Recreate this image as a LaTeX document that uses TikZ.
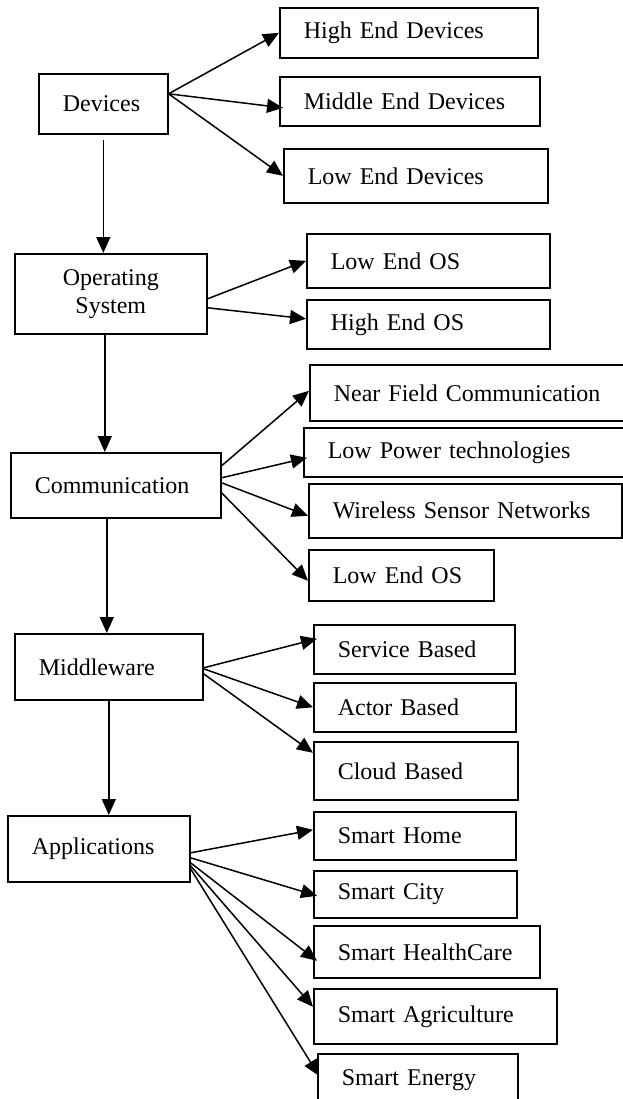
\documentclass[tikz,border=0pt]{standalone}
\usepackage{fontspec}
\setmainfont{Liberation Serif}
\usetikzlibrary{arrows.meta}
\begin{document}
\begin{tikzpicture}[x=0.5pt,y=-0.5pt,
  box/.style={draw, line width=0.8pt, inner xsep=12pt, inner ysep=0pt, align=left, anchor=north west, font=\fontsize{12}{14}\selectfont},
  link/.style={draw, line width=0.75pt, -{Triangle[length=8pt,width=7pt]}}]
\useasboundingbox (0,0) rectangle (622,1099);

\node[box, text width=40.5pt, minimum height=30pt] (dev) at (38,73) {Devices};
\node[box, text width=72pt, minimum height=40pt, align=center] (os) at (14,253) {Operating\\System};
\node[box, text width=81pt, minimum height=32.5pt] (comm) at (10,452) {Communication};
\node[box, text width=70pt, minimum height=33pt] (mw) at (14,633) {Middleware};
\node[box, text width=67pt, minimum height=33pt] (app) at (7,815) {Applications};

\node[box, text width=105pt, minimum height=25pt] (hed) at (279,7) {High End Devices};
\node[box, text width=106pt, minimum height=24.5pt] (med) at (279,76) {Middle End Devices};
\node[box, text width=108pt, minimum height=27pt] (led) at (283,148) {Low End Devices};

\node[box, text width=97.5pt, minimum height=27pt] (los) at (306,233) {Low End OS};
\node[box, text width=97.5pt, minimum height=24.5pt] (hos) at (306,299) {High End OS};

\node[box, text width=136pt, minimum height=28pt] (nfc) at (309,364) {Near Field Communication};
\node[box, text width=141pt, minimum height=24.5pt] (lpt) at (303,427) {Low Power technologies};
\node[box, text width=132.5pt, minimum height=27pt] (wsn) at (308,483) {Wireless Sensor Networks};
\node[box, text width=68.5pt, minimum height=25.5pt] (los2) at (308,549) {Low End OS};

\node[box, text width=76.5pt, minimum height=24.5pt] (sb) at (313,624) {Service Based};
\node[box, text width=77pt, minimum height=24.5pt] (ab) at (313,682) {Actor Based};
\node[box, text width=78pt, minimum height=29pt] (cb) at (313,741) {Cloud Based};

\node[box, text width=77pt, minimum height=24pt] (sh) at (313,811) {Smart Home};
\node[box, text width=77.5pt, minimum height=23.5pt] (sc) at (313,870) {Smart City};
\node[box, text width=89pt, minimum height=26pt] (shc) at (313,925) {Smart HealthCare};
\node[box, text width=97.5pt, minimum height=27.5pt] (sa) at (313,988) {Smart Agriculture};
\node[box, text width=76pt, minimum height=26pt] (se) at (317,1053) {Smart Energy};

\path[link] ([yshift=-2.5pt]dev.south) -- (dev.south |- os.north);
\path[link] ([xshift=-3pt]os.south) -- ([xshift=-3pt]os.south |- comm.north);
\path[link] ([xshift=-4.5pt]comm.south) -- ([xshift=-4.5pt]comm.south |- mw.north);
\path[link] (mw.south) -- (mw.south |- app.north);

\path[link] ([yshift=5pt]dev.east) -- (hed.west);
\path[link] ([yshift=5pt]dev.east) -- ([xshift=2pt,yshift=-3.25pt]med.west);
\path[link] ([yshift=5pt]dev.east) -- (led.west);

\path[link] ([yshift=-2.5pt]os.east) -- (los.west);
\path[link] ([yshift=-7pt]os.east) -- ([yshift=2.75pt]hos.west);

\path[link] ([yshift=9.75pt]comm.east) -- ([yshift=1pt]nfc.west);
\path[link] ([yshift=3.75pt]comm.east) -- ([xshift=2pt,yshift=-2.75pt]lpt.west);
\path[link] ([yshift=1.25pt]comm.east) -- ([yshift=-2.5pt]wsn.west);
\path[link] ([yshift=-3.75pt]comm.east) -- ([yshift=-2.75pt]los2.west);

\path[link] ([yshift=-0.5pt]mw.east) -- ([xshift=2pt,yshift=5.25pt]sb.west);
\path[link] ([yshift=-1pt]mw.east) -- (ab.west);
\path[link] ([yshift=-3.5pt]mw.east) -- ([yshift=9pt]cb.west);

\path[link] ([yshift=-2pt]app.east) -- ([yshift=3pt]sh.west);
\path[link] ([yshift=-4.5pt]app.east) -- ([xshift=2pt,yshift=-0.75pt]sc.west);
\path[link] ([yshift=-7pt]app.east) -- ([xshift=2pt,yshift=-4.5pt]shc.west);
\path[link] ([yshift=-8.5pt]app.east) -- ([yshift=4.75pt]sa.west);
\path[link] ([yshift=-10pt]app.east) -- ([xshift=1pt,yshift=2pt]se.west);
\end{tikzpicture}
\end{document}
